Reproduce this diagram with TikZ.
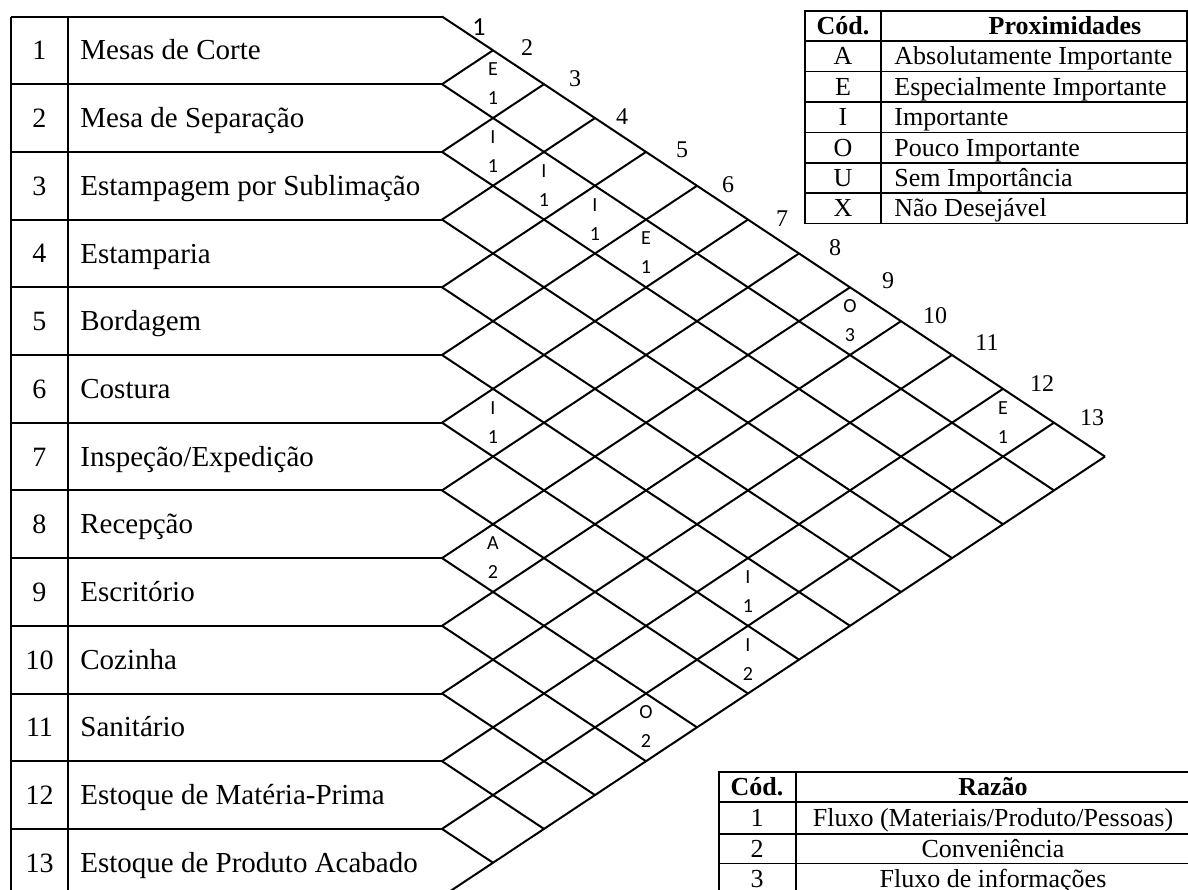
\documentclass[tikz,border=0pt]{standalone}
\usepackage{fontspec}
\setmainfont{Liberation Serif}
\newfontfamily\cellfont{Carlito}

\begin{document}
\begin{tikzpicture}[
    x=0.5pt, y=-0.5pt,
    rule/.style={line width=1pt},
    lattice/.style={line width=1pt},
    legrule/.style={line width=0.8pt},
    txt/.style={inner sep=0pt, text depth=0pt},
    rowno/.style={txt, text height=9.5pt, font=\fontsize{14}{16}\selectfont},
    rowname/.style={txt, anchor=west, text height=9.6pt, font=\fontsize{14.5}{17}\selectfont},
    colno/.style={txt, text height=8.1pt, font=\fontsize{12}{14}\selectfont},
    colone/.style={txt, text height=8.3pt, font=\cellfont\fontsize{13}{15}\selectfont},
    relmark/.style={txt, text height=6.4pt, font=\cellfont\fontsize{10}{12}\selectfont},
    legtext/.style={txt, text height=8.6pt, font=\fontsize{13}{15}\selectfont},
    leghead/.style={legtext, font=\bfseries\fontsize{13}{15}\selectfont}
]
    \useasboundingbox (0,0) rectangle (1188,889);

    % left table
    \foreach \k in {0,...,13}
        \coordinate (L\k) at (442, {16.5+67.7*\k});
    \foreach \k in {0,...,13}
        \draw[rule] (11, {16.5+67.7*\k}) -- (L\k);
    \draw[rule] (11,16.5) -- (11,900);
    \draw[rule] (68,16.5) -- (68,900);

    \node[rowno] (no1) at (39.5,50.35) {1};
    \node[rowno] (no2) at (39.5,118.05) {2};
    \node[rowno] (no3) at (39.5,185.75) {3};
    \node[rowno] (no4) at (39.5,253.45) {4};
    \node[rowno] (no5) at (39.5,321.15) {5};
    \node[rowno] (no6) at (39.5,388.85) {6};
    \node[rowno] (no7) at (39.5,456.55) {7};
    \node[rowno] (no8) at (39.5,524.25) {8};
    \node[rowno] (no9) at (39.5,591.95) {9};
    \node[rowno] (no10) at (39.5,659.65) {10};
    \node[rowno] (no11) at (39.5,727.35) {11};
    \node[rowno] (no12) at (39.5,795.05) {12};
    \node[rowno] (no13) at (39.5,862.75) {13};

    \node[rowname] (sec1) at (80,50.35) {Mesas de Corte};
    \node[rowname] (sec2) at (80,118.05) {Mesa de Separação};
    \node[rowname] (sec3) at (80,185.75) {Estampagem por Sublimação};
    \node[rowname] (sec4) at (80,253.45) {Estamparia};
    \node[rowname] (sec5) at (80,321.15) {Bordagem};
    \node[rowname] (sec6) at (80,388.85) {Costura};
    \node[rowname] (sec7) at (80,456.55) {Inspeção/Expedição};
    \node[rowname] (sec8) at (80,524.25) {Recepção};
    \node[rowname] (sec9) at (80,591.95) {Escritório};
    \node[rowname] (sec10) at (80,659.65) {Cozinha};
    \node[rowname] (sec11) at (80,727.35) {Sanitário};
    \node[rowname] (sec12) at (80,795.05) {Estoque de Matéria-Prima};
    \node[rowname] (sec13) at (80,862.75) {Estoque de Produto Acabado};

    % diamond lattice
    \foreach \k in {0,...,12}
        \draw[lattice] (L\k) -- ++({(13-\k)*51}, {(13-\k)*33.85});
    \foreach \k in {1,...,13}
        \draw[lattice] (L\k) -- ++({\k*51}, {-\k*33.85});

    \node[colone] (c1) at (479,27) {1};
    \foreach \j/\x/\y in {2/527/47, 3/575/78, 4/622/116, 5/682/149, 6/728/184,
        7/782/218, 8/835/247, 9/888/280, 10/935/315, 11/987/342, 12/1042/383, 13/1092/417}
        \node[colno] (c\j) at (\x,\y) {\j};

    \foreach \i/\j/\p/\r in {1/2/E/1, 2/3/I/1, 2/4/I/1, 2/5/I/1, 2/6/E/1, 1/9/O/3,
        1/12/E/1, 6/7/I/1, 8/9/A/2, 6/12/I/1, 7/13/I/2, 9/13/O/2} {
        \node[relmark] (p\i-\j) at ({442+(\j-\i)*51}, {16.5+33.85*(\i+\j-1)-15}) {\p};
        \node[relmark] (r\i-\j) at ({442+(\j-\i)*51}, {16.5+33.85*(\i+\j-1)+14}) {\r};
    }

    % proximity legend
    \draw[legrule] (805,10.7) rectangle (1187,223.5);
    \draw[legrule] (881,10.7) -- (881,223.5);
    \foreach \y in {41.1,71.5,101.9,132.3,162.7,193.1}
        \draw[legrule] (805,\y) -- (1187,\y);
    \node[leghead] (pcod) at (843,25.9) {Cód.};
    \node[leghead] (phead) at (1065,25.9) {Proximidades};
    \node[legtext] (pa) at (843,56.3) {A};
    \node[legtext] (pe) at (843,86.7) {E};
    \node[legtext] (pi) at (843,117.1) {I};
    \node[legtext] (po) at (843,147.5) {O};
    \node[legtext] (pu) at (843,177.9) {U};
    \node[legtext] (px) at (843,208.3) {X};
    \node[legtext, anchor=west] (da) at (894,56.3) {Absolutamente Importante};
    \node[legtext, anchor=west] (de) at (894,86.7) {Especialmente Importante};
    \node[legtext, anchor=west] (di) at (894,117.1) {Importante};
    \node[legtext, anchor=west] (do) at (894,147.5) {Pouco Importante};
    \node[legtext, anchor=west] (du) at (894,177.9) {Sem Importância};
    \node[legtext, anchor=west] (dx) at (894,208.3) {Não Desejável};

    % reason legend
    \draw[legrule] (1195,771.7) -- (719,771.7) -- (719,900);
    \draw[legrule] (795.7,771.7) -- (795.7,900);
    \foreach \y in {802,834,863.5}
        \draw[legrule] (719,\y) -- (1195,\y);
    \node[leghead] (rcod) at (757,787) {Cód.};
    \node[leghead] (rhead) at (993,787) {Razão};
    \node[legtext] (ra) at (757,818) {1};
    \node[legtext] (rb) at (757,848.7) {2};
    \node[legtext] (rc) at (757,879) {3};
    \node[legtext] (fa) at (993,818) {Fluxo (Materiais/Produto/Pessoas)};
    \node[legtext] (fb) at (993,848.7) {Conveniência};
    \node[legtext] (fc) at (993,879) {Fluxo de informações};
\end{tikzpicture}
\end{document}
